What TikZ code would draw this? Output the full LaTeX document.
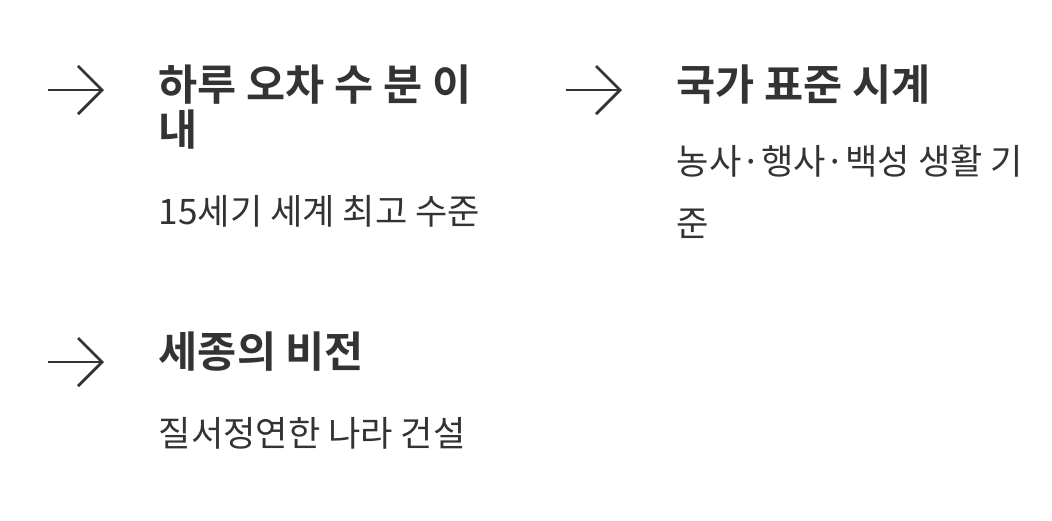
\documentclass[tikz,border=0pt]{standalone}
\usepackage{fontspec}
\setmainfont{Noto Sans CJK KR}[BoldFont={Noto Sans CJK KR Bold}]
\usetikzlibrary{arrows.meta}
\definecolor{ink}{HTML}{333333}
\tikzstyle{title}=[anchor=base west, inner sep=0pt, font=\fontsize{12.1}{12.8}\selectfont\bfseries, text=ink, align=left]
\tikzstyle{body}=[anchor=base west, inner sep=0pt, font=\fontsize{10}{17.6}\selectfont, text=ink, align=left]
\tikzstyle{arrow}=[draw=ink, line width=0.8pt, -{Straight Barb[length=2.4mm, width=4.8mm]}]

\begin{document}
\begin{tikzpicture}[x=0.01cm, y=-0.01cm]
		   \useasboundingbox (0,0) rectangle (1052,520);
		   \begin{scope}
			   \coordinate (a1) at (48, 90);
			   \coordinate (b1) at (104, 90);
			   \coordinate (a2) at (566, 90);
			   \coordinate (b2) at (622, 90);
			   \coordinate (a3) at (48, 362);
			   \coordinate (b3) at (104, 362);

			   \node (t1) at (158, 145)[title] {하루 오차 수 분 이\\내};
			   \node (d1) at (158, 224)[body] {15세기 세계 최고 수준};
			   \node (t2) at (676, 100)[title] {국가 표준 시계};
			   \node (d2) at (676, 236)[body] {농사·행사·백성 생활 기\\준};
			   \node (t3) at (158, 367)[title] {세종의 비전};
			   \node (d3) at (158, 446)[body] {질서정연한 나라 건설};
		   \end{scope}
		   \begin{scope}
			   \path [arrow] (a1) -- (b1);
			   \path [arrow] (a2) -- (b2);
			   \path [arrow] (a3) -- (b3);
		   \end{scope}
	   \end{tikzpicture}
\end{document}
